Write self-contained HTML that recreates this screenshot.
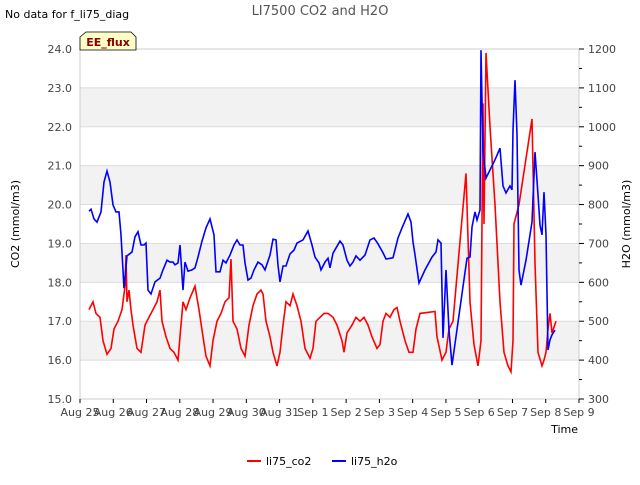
<!DOCTYPE html>
<html><head><meta charset="utf-8"><style>
body{margin:0;background:#fff;font-family:"Liberation Sans","DejaVu Sans",sans-serif}
svg text{font-family:"DejaVu Sans","Liberation Sans",sans-serif}
</style></head><body>
<svg id="c" width="640" height="480" viewBox="0 0 640 480" xmlns="http://www.w3.org/2000/svg">
<rect width="640" height="480" fill="#fff"/>
<g id="bands"></g><g id="grid"></g>
<rect x="80" y="49" width="499" height="350" fill="none" stroke="#ccc"/>
<g id="axes"></g><g id="series"></g>
<text x="320" y="15" text-anchor="middle" font-size="13" fill="#555">LI7500 CO2 and H2O</text>
<text x="5" y="18" font-size="11" fill="#000">No data for f_li75_diag</text>
<g>
<path d="M80,50 L80,37 L86,32 L131,32 L136,37 L136,50 Z" fill="#ffffc8" stroke="#000" stroke-width="0.8"/>
<text x="108" y="46" text-anchor="middle" font-size="11" font-weight="bold" fill="#8b0000">EE_flux</text>
</g>
<text x="19" y="224" transform="rotate(-90 19 224)" text-anchor="middle" font-size="11">CO2 (mmol/m3)</text>
<text x="630" y="224" transform="rotate(-90 630 224)" text-anchor="middle" font-size="11">H2O (mmol/m3)</text>
<text x="578" y="433" text-anchor="end" font-size="11">Time</text>
<g>
<g><line x1="247" y1="461" x2="261" y2="461" stroke="#f00" stroke-width="2"/><text x="266" y="465" font-size="11">li75_co2</text></g>
<g><line x1="332" y1="461" x2="346" y2="461" stroke="#00f" stroke-width="2"/><text x="351" y="465" font-size="11">li75_h2o</text></g>
</g>
</svg>
<script>
const xLabels=["Aug 25","Aug 26","Aug 27","Aug 28","Aug 29","Aug 30","Aug 31","Sep 1","Sep 2","Sep 3","Sep 4","Sep 5","Sep 6","Sep 7","Sep 8","Sep 9"];
const leftTicks=[15,16,17,18,19,20,21,22,23,24];
const rightTicks=[300,400,500,600,700,800,900,1000,1100,1200];
// times as pixel-read positions converted to days since Aug 25
const co2PX=[89,93,96,100,103,107,111,114,118,122,125,126,127,129,131,133,137,141,145,149,153,157,160,162,166,170,174,178,181,183,186,190,195,199,203,206,210,213,217,221,225,229,231,233,237,241,245,249,253,257,261,263,266,270,273,277,280,283,286,290,293,297,301,305,310,313,316,320,324,328,333,337,342,344,347,352,356,360,364,368,372,377,380,383,386,390,394,397,400,405,409,413,416,420,435,437,442,446,449,453,466,470,474,478,481,483,484,486,490,495,500,504,508,511,513,514,519,532,535,538,542,544,546,548,550,552,556];
const co2Vals=[17.3,17.5,17.2,17.1,16.5,16.15,16.3,16.8,17.0,17.3,17.9,18.7,17.5,17.8,17.3,16.9,16.3,16.2,16.9,17.1,17.3,17.5,17.8,17.0,16.6,16.3,16.2,16.0,16.9,17.5,17.3,17.6,17.9,17.3,16.6,16.1,15.85,16.5,17.0,17.2,17.5,17.6,18.6,17.0,16.8,16.3,16.1,16.9,17.4,17.7,17.8,17.7,17.0,16.6,16.2,15.85,16.2,16.9,17.5,17.4,17.7,17.4,17.0,16.3,16.05,16.3,17.0,17.1,17.2,17.2,17.1,16.9,16.5,16.2,16.7,16.9,17.1,17.0,17.1,16.9,16.6,16.3,16.4,17.0,17.2,17.1,17.3,17.35,17.0,16.5,16.2,16.2,16.8,17.2,17.25,16.6,16.0,16.2,16.8,17.0,20.8,17.5,16.4,15.85,16.5,22.6,19.5,23.9,22.0,20.0,17.5,16.2,15.85,15.7,16.5,19.5,20.0,22.2,18.5,16.2,15.85,16.0,16.2,16.8,17.2,16.7,17.0];
const h2oPX=[89,91,94,97,101,104,107,110,113,116,119,121,124,127,132,135,138,141,144,146,148,151,155,160,163,167,170,173,175,178,180,183,185,188,192,195,198,202,206,210,214,216,220,223,226,230,234,237,240,243,245,248,251,254,258,262,265,270,273,276,278,280,283,286,290,294,297,303,308,310,312,315,319,321,325,328,330,333,340,343,347,350,353,356,360,365,370,374,378,383,386,393,398,402,408,411,413,415,419,425,432,436,438,441,443,446,449,452,460,467,470,472,475,477,480,481,483,486,495,500,503,506,510,512,513,515,517,519,521,526,532,535,538,540,542,544,546,548,550,552,555];
const h2oVals=[783,788,763,755,781,858,886,858,799,781,781,722,585,668,678,717,730,696,696,701,580,570,601,611,632,657,652,652,645,650,696,580,652,629,632,637,665,706,740,763,722,627,627,657,650,670,696,709,696,696,650,606,611,632,652,645,632,670,711,709,644,601,642,642,673,683,701,709,732,714,696,665,650,632,652,662,637,675,706,696,657,642,652,668,657,670,709,714,699,676,660,663,714,740,776,755,704,671,598,632,665,678,709,701,457,632,477,387,534,662,665,742,781,760,786,1197,940,868,915,945,848,830,848,838,991,1120,980,632,593,657,755,935,825,747,722,832,722,426,452,465,477];
const X0=80,DAY=499/15,Y0=399,YH=350;
const toDay=px=>(px-X0)/DAY;
const co2T=co2PX.map(toDay), h2oT=h2oPX.map(toDay);
const xs=d=>X0+d*DAY, yl=v=>Y0-(v-15)/9*YH, yr=v=>Y0-(v-300)/900*YH;
const NS="http://www.w3.org/2000/svg";
function mk(tag,attrs,parent){const e=document.createElementNS(NS,tag);for(const k in attrs)e.setAttribute(k,attrs[k]);document.getElementById(parent).appendChild(e);return e;}
for(let i=0;i<leftTicks.length;i++){const v=leftTicks[i];
 if(v<24&&(v%2===0)){const r=mk('rect',{x:X0,y:yl(v+1),width:499,height:yl(v)-yl(v+1),fill:'#f2f2f2'},'bands');
  
  }
 const g=mk('line',{x1:X0,x2:579,y1:yl(v),y2:yl(v),stroke:'#dcdcdc'},'grid');
 
 
 const t=mk('text',{x:72,y:yl(v)+4,'text-anchor':'end','font-size':11,fill:'#444'},'axes');t.textContent=v.toFixed(1);
 
 }
for(let i=0;i<rightTicks.length;i++){const v=rightTicks[i];
 const l=mk('line',{x1:579,x2:584,y1:yr(v),y2:yr(v),stroke:'#000'},'axes');
 
 
 if(v<1200){const m=mk('line',{x1:579,x2:582,y1:yr(v+50),y2:yr(v+50),stroke:'#000'},'axes');
  
  }
 const t=mk('text',{x:588,y:yr(v)+4,'font-size':11,fill:'#444'},'axes');t.textContent=v;
 
 }
for(let i=0;i<xLabels.length;i++){
 const l=mk('line',{x1:xs(i),x2:xs(i),y1:399,y2:403,stroke:'#000'},'axes');
 
 
 const t=mk('text',{x:xs(i),y:416,'text-anchor':'middle','font-size':11,fill:'#444'},'axes');t.textContent=xLabels[i];
 
 }
const pc=mk('path',{d:co2T.map((d,i)=>(i?'L':'M')+xs(d).toFixed(1)+','+yl(co2Vals[i]).toFixed(1)).join(''),fill:'none',stroke:'#f00','stroke-width':1.6},'series');


const ph=mk('path',{d:h2oT.map((d,i)=>(i?'L':'M')+xs(d).toFixed(1)+','+yr(h2oVals[i]).toFixed(1)).join(''),fill:'none',stroke:'#00f','stroke-width':1.6},'series');


</script>
</body></html>
